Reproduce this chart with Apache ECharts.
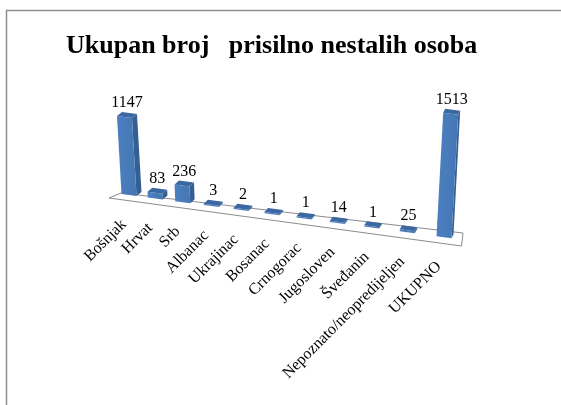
<!DOCTYPE html>
<html>
<head>
<meta charset="utf-8">
<script src="https://cdn.jsdelivr.net/npm/echarts@6/dist/echarts.min.js"></script>
<style>
  html, body { margin: 0; padding: 0; background: #fff; }
  #chart { width: 561px; height: 405px; }
</style>
</head>
<body>
<div id="chart"></div>
<script>
const categories = ['Bošnjak', 'Hrvat', 'Srb', 'Albanac', 'Ukrajinac', 'Bosanac', 'Crnogorac', 'Jugosloven', 'Šveđanin', 'Nepoznato/neopredijeljen', 'UKUPNO'];
const values = [1147, 83, 236, 3, 2, 1, 1, 14, 1, 25, 1513];
const titleText = 'Ukupan broj   prisilno nestalih osoba';

const N = categories.length;
const FONT = "'Liberation Serif', 'DejaVu Serif', serif";

// fake 3d: the floor slopes down to the right, things get a bit bigger towards the right
const slope = 0.134;
const warp = t => 0.816 * t + 0.184 * t * t;

const frame = (api) => {
  const a = api.coord([0, 0]);
  const b = api.coord([N - 1, 0]);
  return { x0: a[0], y0: a[1], span: b[0] - a[0] };
};

const add = (p, q) => [p[0] + q[0], p[1] + q[1]];

const renderFloor = (params, api) => {
  const f = frame(api);
  return {
    type: 'polygon',
    shape: {
      points: [
        [f.x0 - 20, f.y0 + 3],
        [f.x0 - 8, f.y0 - 2],
        [f.x0 + 334, f.y0 + 38],
        [f.x0 + 332.5, f.y0 + 51]
      ]
    },
    style: { fill: '#fff', stroke: '#8c8c8c', lineWidth: 1 }
  };
};

const renderBar = (params, api) => {
  const f = frame(api);
  const i = api.value(0);
  const v = api.value(1);
  const t = i / (N - 1);
  const bx = f.x0 + f.span * warp(t);
  const by = f.y0 + slope * (bx - f.x0);
  const h = Math.max(api.size([0, v])[1] * (1 + 0.2 * t), 1.2);
  // verticals converge to a point far below the chart
  const lean = (bx - (f.x0 + 164)) / (f.y0 + 2834 - by);
  const hw = 7.5;
  const A = [bx - hw, by - hw * slope];
  const B = [bx + hw, by + hw * slope];
  const up = [lean * h, -h];
  const D = add(A, up);
  const C = add(B, up);
  const d = [5 - 3 * t, -4];

  const topMid = [(D[0] + C[0]) / 2 + d[0] / 2, (D[1] + C[1]) / 2 + d[1] / 2];

  return {
    type: 'group',
    children: [
      {
        type: 'polygon',
        shape: { points: [B, add(B, d), add(C, d), C] },
        style: { fill: '#355f93' }
      },
      {
        type: 'polygon',
        shape: { points: [A, B, C, D] },
        style: {
          fill: new echarts.graphic.LinearGradient(0, 0, 1, 0, [
            { offset: 0, color: '#4b7fc0' },
            { offset: 1, color: '#4677b4' }
          ])
        }
      },
      {
        type: 'polygon',
        shape: { points: [D, C, add(C, d), add(D, d)] },
        style: { fill: '#3c68a2' }
      },
      {
        type: 'text',
        x: topMid[0],
        y: topMid[1] - 12,
        style: {
          text: String(v),
          fill: '#000',
          font: '16px ' + FONT,
          align: 'center',
          verticalAlign: 'middle'
        }
      },
      {
        type: 'text',
        x: bx - 5,
        y: by + 27,
        rotation: Math.PI / 4,
        style: {
          text: categories[i],
          fill: '#000',
          font: '16px ' + FONT,
          align: 'right',
          verticalAlign: 'middle'
        }
      }
    ]
  };
};

const chart = echarts.init(document.getElementById('chart'), null, { renderer: 'canvas' });

chart.setOption({
  animation: false,
  backgroundColor: '#fff',
  title: {
    text: titleText,
    left: 61,
    top: 28,
    textStyle: { fontFamily: FONT, fontWeight: 'bold', fontSize: 26, color: '#000' }
  },
  graphic: [
    {
      type: 'rect',
      shape: { x: 6.5, y: 10.5, width: 700, height: 500 },
      style: { fill: 'none', stroke: '#8e8e8e', lineWidth: 1.5 },
      silent: true
    }
  ],
  grid: { left: 113.25, right: 101.25, top: 86.2, bottom: 210 },
  xAxis: { type: 'category', data: categories, show: false },
  yAxis: { type: 'value', min: 0, max: 1600, show: false },
  series: [
    {
      type: 'custom',
      z: 1,
      clip: false,
      data: [[0, 0]],
      renderItem: renderFloor
    },
    {
      type: 'custom',
      z: 2,
      clip: false,
      data: values.map((v, i) => [i, v]),
      renderItem: renderBar
    }
  ]
});
</script>
</body>
</html>
